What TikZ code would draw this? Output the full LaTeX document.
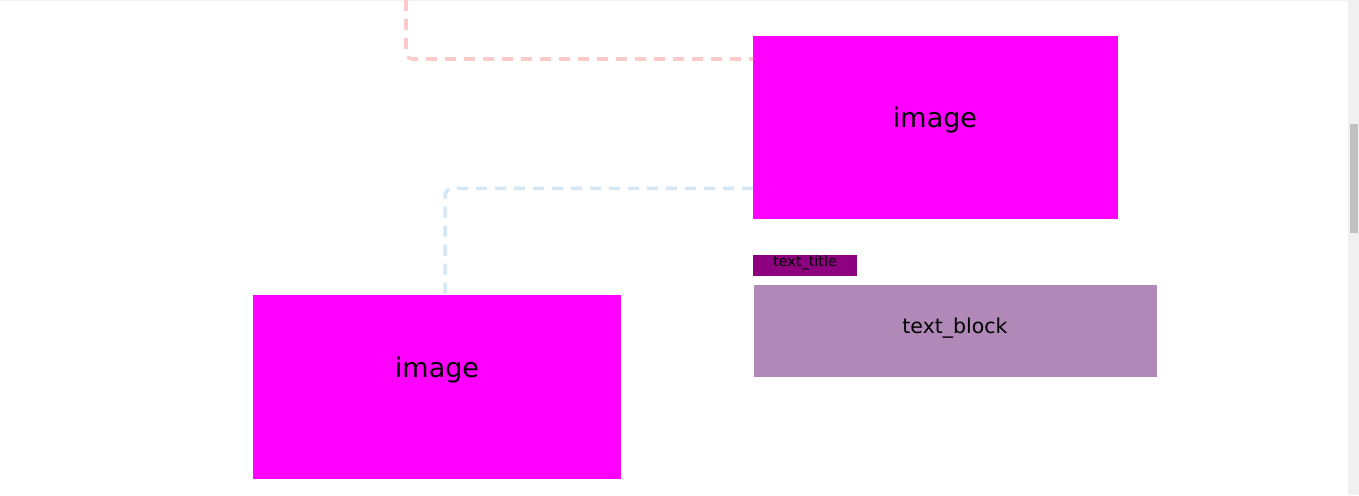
\documentclass[tikz,border=0pt]{standalone}
\usepackage{fontspec}
\setmainfont{DejaVu Sans}
\usetikzlibrary{positioning}
\definecolor{imagefill}{RGB}{255,0,255}
\definecolor{titlefill}{RGB}{141,0,128}
\definecolor{blockfill}{RGB}{176,137,184}
\definecolor{pinkdash}{RGB}{251,203,201}
\definecolor{bluedash}{RGB}{213,230,244}
\definecolor{scrolltrack}{RGB}{240,240,240}
\definecolor{scrollthumb}{RGB}{193,193,193}
\definecolor{topedge}{RGB}{238,241,245}

\begin{document}
\begin{tikzpicture}[x=1pt,y=-1pt]
            \tikzstyle{image box}=[draw=none,fill=imagefill,anchor=north west,inner sep=0pt,minimum width=365pt,minimum height=183pt]
            \tikzstyle{title box}=[draw=none,fill=titlefill,anchor=north west,inner sep=0pt,minimum width=104pt,minimum height=21pt]
            \tikzstyle{block box}=[draw=none,fill=blockfill,anchor=north west,inner sep=0pt,minimum width=403pt,minimum height=92pt]
            \tikzstyle{big label}=[anchor=base,inner sep=0pt,font=\fontsize{27}{32}\selectfont]
            \tikzstyle{mid label}=[anchor=base,inner sep=0pt,font=\fontsize{20.5}{24}\selectfont]
            \tikzstyle{small label}=[anchor=base,inner sep=0pt,font=\fontsize{14.4}{17}\selectfont]
            \tikzstyle{link}=[line width=3.6pt,dash pattern=on 11pt off 8pt,rounded corners=7pt]

            % page and scrollbar
            \fill[white] (0,0) rectangle (1359,495);
            \useasboundingbox (0,0) rectangle (1359,495);
            \fill[topedge] (0,0) rectangle (1348,1.5);
            \fill[scrolltrack] (1348,0) rectangle (1359,495);
            \fill[scrollthumb] (1350,124) rectangle (1358,233);

            \node[image box] (imageA) at (753,36) {};
            \node[image box,minimum width=368pt,minimum height=184pt] (imageB) at (253,295) {};
            \node[title box] (title) at (753,255) {};
            \node[block box] (block) at (754,285) {};

            \node[big label] (imageAtext) at (935,127) {image};
            \node[big label] (imageBtext) at (437,377) {image};
            \node[small label] (titletext) at (805,266) {text\_title};
            \node[mid label] (blocktext) at (955,333) {text\_block};

            \coordinate (topend) at (406,0);
            \draw[link,pinkdash] (topend) |- ([yshift=-23pt]imageA.north west);
            \draw[link,bluedash] ([yshift=31pt]imageA.south west) -| ([xshift=8pt]imageB.north);
        \end{tikzpicture}
\end{document}
